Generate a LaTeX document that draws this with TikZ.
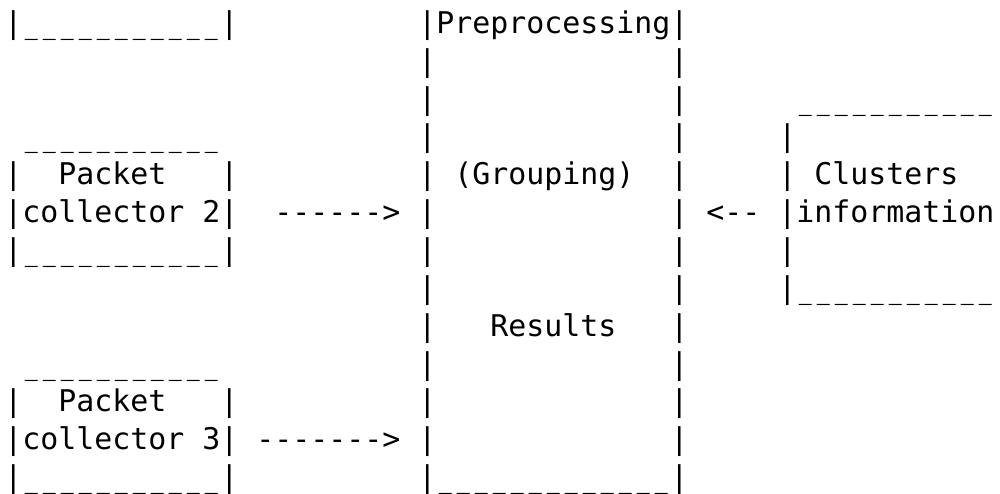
\documentclass[tikz,border=0pt]{standalone}
\usepackage{fontspec}
\usepackage{graphicx}
\setmonofont{DejaVu Sans Mono}
\tikzset{
  ascii/.style={inner sep=0pt, outer sep=0pt, anchor=base west, text=black,
    font=\ttfamily\fontsize{14.95pt}{18pt}\selectfont}
}
% one underscore cell, narrowed so that a run of them reads as separate strokes
\newcommand\us{\makebox[9pt]{\scalebox{0.72}[1]{\_}}}
% a run of #1 underscore cells
\newcommand\usrun[1]{\foreach \k in {1,...,#1}{\us}}
% \cell{name}{column}{row}{characters}: one run of characters on the text grid
\newcommand\cell[4]{\node[ascii] (#1) at (#2,#3) {#4};}
\begin{document}
\begin{tikzpicture}[x=9pt, y=-18.925pt]
\clip (-0.2389,-0.8824) rectangle (55.317,12.169);
% row 0
\cell{pcOneBot}{0}{0}{|\usrun{11}|}
\cell{preTitle}{23}{0}{|Preprocessing|}
% row 1
\cell{preL1}{23}{1}{|}
\cell{preR1}{37}{1}{|}
% row 2
\cell{preL2}{23}{2}{|}
\cell{preR2}{37}{2}{|}
\cell{ciTop}{44}{2}{\usrun{11}}
% row 3
\cell{pcTwoTop}{1}{3}{\usrun{11}}
\cell{preL3}{23}{3}{|}
\cell{preR3}{37}{3}{|}
\cell{ciL3}{43}{3}{|}
% row 4
\cell{pcTwoL4}{0}{4}{|}
\cell{pcTwoName}{3}{4}{Packet}
\cell{pcTwoR4}{12}{4}{|}
\cell{preL4}{23}{4}{|}
\cell{preGroup}{25}{4}{(Grouping)}
\cell{preR4}{37}{4}{|}
\cell{ciL4}{43}{4}{|}
\cell{ciName}{45}{4}{Clusters}
% row 5
\cell{pcTwoSub}{0}{5}{|collector 2|}
\cell{arrowTwo}{15}{5}{------>}
\cell{preL5}{23}{5}{|}
\cell{preR5}{37}{5}{|}
\cell{arrowCi}{39}{5}{<--}
\cell{ciSub}{43}{5}{|information}
% row 6
\cell{pcTwoBot}{0}{6}{|\usrun{11}|}
\cell{preL6}{23}{6}{|}
\cell{preR6}{37}{6}{|}
\cell{ciL6}{43}{6}{|}
% row 7
\cell{preL7}{23}{7}{|}
\cell{preR7}{37}{7}{|}
\cell{ciBot}{43}{7}{|\usrun{11}}
% row 8
\cell{preL8}{23}{8}{|}
\cell{preRes}{27}{8}{Results}
\cell{preR8}{37}{8}{|}
% row 9
\cell{pcThreeTop}{1}{9}{\usrun{11}}
\cell{preL9}{23}{9}{|}
\cell{preR9}{37}{9}{|}
% row 10
\cell{pcThreeL10}{0}{10}{|}
\cell{pcThreeName}{3}{10}{Packet}
\cell{pcThreeR10}{12}{10}{|}
\cell{preL10}{23}{10}{|}
\cell{preR10}{37}{10}{|}
% row 11
\cell{pcThreeSub}{0}{11}{|collector 3|}
\cell{arrowThree}{14}{11}{------->}
\cell{preL11}{23}{11}{|}
\cell{preR11}{37}{11}{|}
% row 12
\cell{pcThreeBot}{0}{12}{|\usrun{11}|}
\cell{preBot}{23}{12}{|\usrun{13}|}
\end{tikzpicture}
\end{document}
